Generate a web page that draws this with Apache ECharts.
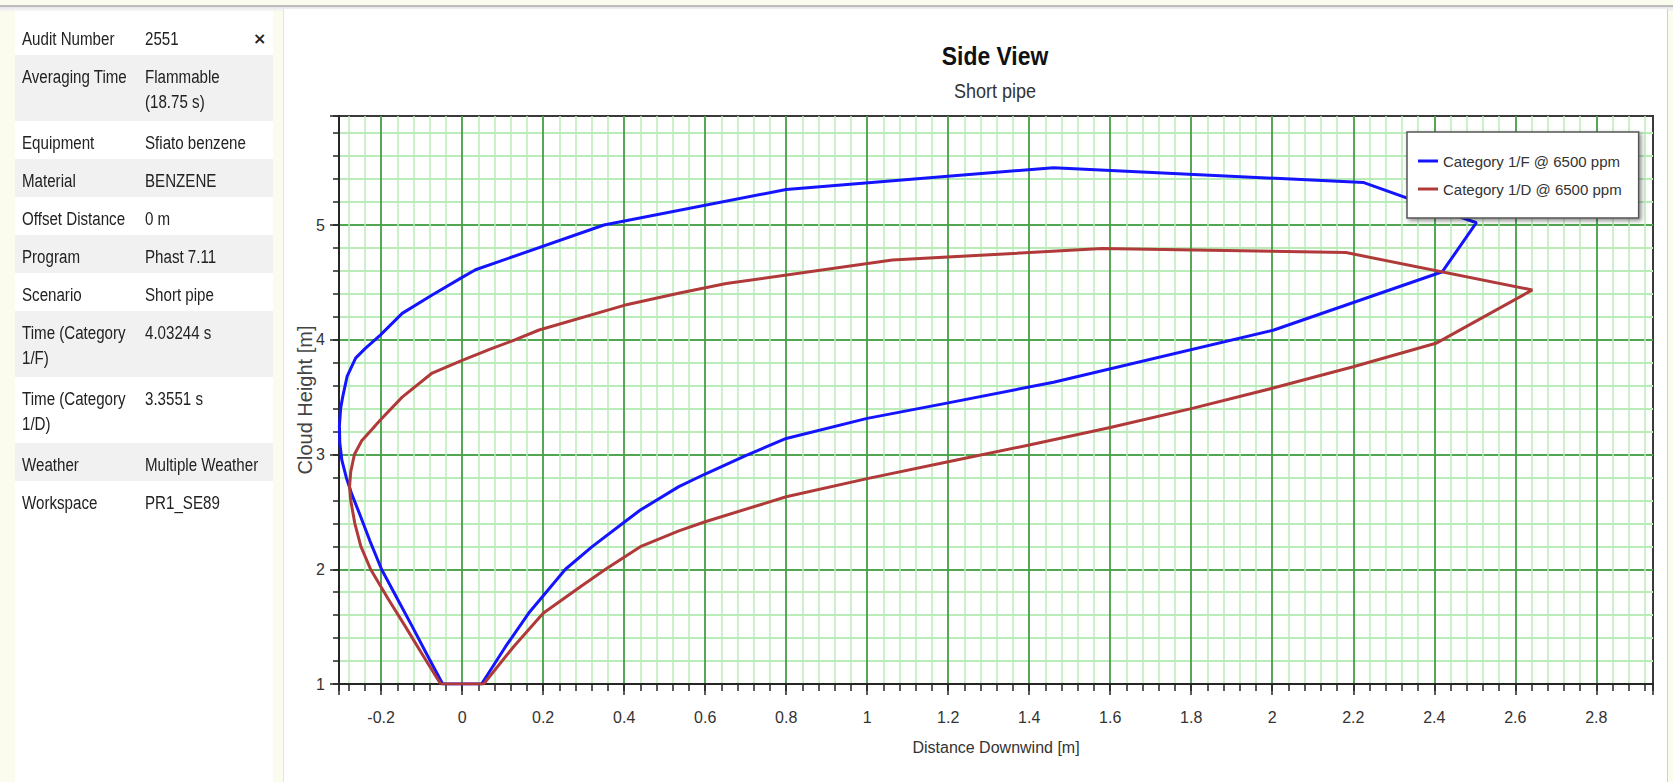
<!DOCTYPE html>
<html>
<head>
<meta charset="utf-8">
<title>Side View</title>
<script src="https://cdn.jsdelivr.net/npm/echarts@6/dist/echarts.min.js"></script>
<style>
html, body { margin: 0; padding: 0; width: 1673px; height: 782px; overflow: hidden; background: #fbfbee; }
body { position: relative; font-family: "Liberation Sans", Arial, sans-serif; }
#topbar { position: absolute; left: 0; top: 5px; width: 1673px; height: 2px; background: #bdbdbd; }
#topshade { position: absolute; left: 0; top: 7px; width: 1673px; height: 4px; background: linear-gradient(#e6e6e6, #f7f7f7); }
#side { position: absolute; left: 15px; top: 11px; width: 258px; height: 771px; background: #fff; }
#rows { position: absolute; left: 0; top: 6px; width: 258px; }
.row { position: relative; height: 38px; background: #fff; }
.row.g { background: #f1f1f1; }
.row.d { height: 66px; }
.k, .v { position: absolute; top: 10px; font-size: 18px; line-height: 25px; color: #222; white-space: nowrap;
         transform: scaleX(0.84); transform-origin: 0 0; }
.k { left: 7px; }
.v { left: 130px; }
#close { position: absolute; left: 238px; top: 12px; font: bold 16px "DejaVu Sans", sans-serif; color: #222; }
#panel { position: absolute; left: 283px; top: 9px; width: 1383px; height: 773px; background: #fff; border-left: 1px solid #e4e4e4; border-right: 1px solid #cfcfcf; }
#chart { position: absolute; left: 0; top: 0; width: 1673px; height: 782px; }
</style>
</head>
<body>
<div id="topbar"></div>
<div id="topshade"></div>
<div id="side">
  <div id="rows">
    <div class="row"><span class="k">Audit Number</span><span class="v">2551</span><span id="close">×</span></div>
    <div class="row g d"><span class="k">Averaging Time</span><span class="v">Flammable<br>(18.75 s)</span></div>
    <div class="row"><span class="k">Equipment</span><span class="v">Sfiato benzene</span></div>
    <div class="row g"><span class="k">Material</span><span class="v">BENZENE</span></div>
    <div class="row"><span class="k">Offset Distance</span><span class="v">0 m</span></div>
    <div class="row g"><span class="k">Program</span><span class="v">Phast 7.11</span></div>
    <div class="row"><span class="k">Scenario</span><span class="v">Short pipe</span></div>
    <div class="row g d"><span class="k">Time (Category<br>1/F)</span><span class="v">4.03244 s</span></div>
    <div class="row d"><span class="k">Time (Category<br>1/D)</span><span class="v">3.3551 s</span></div>
    <div class="row g"><span class="k">Weather</span><span class="v">Multiple Weather</span></div>
    <div class="row"><span class="k">Workspace</span><span class="v">PR1_SE89</span></div>
  </div>
</div>
<div id="panel"></div>
<div id="chart"></div>
<script>
// series names (legend)
const seriesNames = ['Category 1/F @ 6500 ppm', 'Category 1/D @ 6500 ppm'];

// tick labels
const xTickLabels = [-0.2, 0, 0.2, 0.4, 0.6, 0.8, 1, 1.2, 1.4, 1.6, 1.8, 2, 2.2, 2.4, 2.6, 2.8];
const yTickLabels = [1, 2, 3, 4, 5];

// cloud outline, Category 1/F : [distance downwind, cloud height]
const catF = [
  [-0.048, 1.0], [-0.086, 1.25], [-0.123, 1.5], [-0.161, 1.75], [-0.199, 2.0],
  [-0.228, 2.25], [-0.254, 2.49], [-0.272, 2.65], [-0.286, 2.8], [-0.297, 2.95],
  [-0.302, 3.1], [-0.303, 3.25], [-0.3, 3.4], [-0.295, 3.5], [-0.284, 3.68],
  [-0.263, 3.84], [-0.239, 3.925], [-0.202, 4.04], [-0.148, 4.23], [-0.074, 4.39],
  [0.0, 4.544], [0.033, 4.61], [0.35, 5.0], [0.8, 5.31], [1.46, 5.5],
  [2.226, 5.37], [2.504, 5.02], [2.42, 4.593], [2.004, 4.085], [1.46, 3.63],
  [1.2, 3.45], [1.0, 3.315], [0.8, 3.14], [0.7, 2.99], [0.6, 2.83],
  [0.535, 2.72], [0.44, 2.516], [0.4, 2.41], [0.321, 2.197], [0.255, 2.0],
  [0.164, 1.616], [0.107, 1.325], [0.048, 1.0], [-0.048, 1.0]
];

// cloud outline, Category 1/D
const catD = [
  [-0.053, 1.0], [-0.097, 1.25], [-0.14, 1.5], [-0.184, 1.75], [-0.226, 2.0],
  [-0.25, 2.2], [-0.265, 2.4], [-0.275, 2.6], [-0.278, 2.72], [-0.275, 2.85],
  [-0.266, 3.0], [-0.248, 3.12], [-0.225, 3.21], [-0.202, 3.3], [-0.148, 3.5],
  [-0.074, 3.71], [0.0, 3.82], [0.074, 3.925], [0.124, 3.99], [0.19, 4.085],
  [0.4, 4.3], [0.54, 4.41], [0.652, 4.49], [1.062, 4.695], [1.58, 4.795],
  [2.182, 4.76], [2.642, 4.434], [2.404, 3.969], [2.2, 3.765], [2.0, 3.577],
  [1.8, 3.4], [1.6, 3.236], [1.4, 3.083], [1.2, 2.937], [1.0, 2.79],
  [0.8, 2.632], [0.6, 2.414], [0.535, 2.335], [0.44, 2.197], [0.354, 2.0],
  [0.292, 1.848], [0.2, 1.616], [0.127, 1.325], [0.053, 1.0], [-0.053, 1.0]
];

const X_MIN = -0.304, X_MAX = 2.94;
const Y_MIN = 1, Y_MAX = 5.95;

const FONT = '"Liberation Sans", Arial, sans-serif';
const MINOR = '#b9ecb9';
const MAJOR = '#2f8f2f';
const AXIS = '#262626';

const onTick = (v, list) => list.some(t => Math.abs(t - v) < 1e-6);
const fmt = list => v => onTick(v, list) ? String(+(+v).toFixed(1)) : '';

const myChart = echarts.init(document.getElementById('chart'), null, { renderer: 'svg' });

const option = {
  animation: false,
  backgroundColor: 'transparent',
  textStyle: { fontFamily: FONT },
  graphic: [
    {
      type: 'text', x: 995, y: 56, z: 10, scaleX: 0.88,
      style: {
        text: 'Side View', align: 'center', verticalAlign: 'middle',
        textAlign: 'center', textVerticalAlign: 'middle',
        font: 'bold 26px ' + FONT, fill: '#111'
      }
    },
    {
      type: 'text', x: 995, y: 91, z: 10, scaleX: 0.9,
      style: {
        text: 'Short pipe', align: 'center', verticalAlign: 'middle',
        textAlign: 'center', textVerticalAlign: 'middle',
        font: '20px ' + FONT, fill: '#333'
      }
    }
  ],
  legend: {
    data: seriesNames,
    orient: 'vertical',
    left: 1407,
    top: 132,
    padding: [20, 17, 20, 11],
    itemGap: 10,
    itemWidth: 20,
    itemHeight: 3,
    icon: 'rect',
    backgroundColor: '#fff',
    borderColor: '#555',
    borderWidth: 1.5,
    shadowColor: 'rgba(0,0,0,0.45)',
    shadowBlur: 4,
    shadowOffsetX: 2,
    shadowOffsetY: 2,
    selectedMode: false,
    textStyle: { fontSize: 15, lineHeight: 18, color: '#333', fontFamily: FONT }
  },
  grid: {
    left: 339,
    top: 116,
    width: 1314,
    height: 568,
    show: true,
    backgroundColor: '#fff',
    borderColor: '#3a3a3a',
    borderWidth: 2,
    containLabel: false,
    outerBoundsMode: 'none'
  },
  xAxis: [
    {
      // minor grid
      type: 'value', position: 'bottom', min: X_MIN, max: X_MAX,
      minInterval: 0.04, maxInterval: 0.04,
      axisLine: { show: false, onZero: false },
      axisLabel: { show: false },
      axisTick: { show: true, length: 7, lineStyle: { color: AXIS, width: 1.5 } },
      splitLine: { show: true, showMinLine: false, showMaxLine: false, lineStyle: { color: MINOR, width: 1.5 } }
    },
    {
      // major grid + labels
      type: 'value', position: 'bottom', min: X_MIN, max: X_MAX,
      minInterval: 0.2, maxInterval: 0.2,
      name: 'Distance Downwind [m]',
      nameLocation: 'middle',
      nameGap: 55,
      nameMoveOverlap: false,
      nameTextStyle: { fontSize: 16, color: '#333', fontFamily: FONT },
      axisLine: { show: true, onZero: false, lineStyle: { color: AXIS, width: 2 } },
      axisTick: { show: true, length: 11, lineStyle: { color: AXIS, width: 1.5 } },
      axisLabel: { margin: 25, fontSize: 16, color: '#333', formatter: fmt(xTickLabels) },
      splitLine: { show: true, showMinLine: false, showMaxLine: false, lineStyle: { color: MAJOR, width: 1.5 } }
    }
  ],
  yAxis: [
    {
      type: 'value', position: 'left', min: Y_MIN, max: Y_MAX,
      minInterval: 0.2, maxInterval: 0.2,
      axisLine: { show: false, onZero: false },
      axisLabel: { show: false },
      axisTick: { show: true, length: 6, lineStyle: { color: AXIS, width: 1.5 } },
      splitLine: { show: true, showMinLine: false, showMaxLine: false, lineStyle: { color: MINOR, width: 2 } }
    },
    {
      type: 'value', position: 'left', min: Y_MIN, max: Y_MAX,
      minInterval: 1, maxInterval: 1,
      name: 'Cloud Height [m]',
      nameLocation: 'middle',
      nameGap: 24,
      nameRotate: 90,
      nameMoveOverlap: false,
      nameTextStyle: { fontSize: 20, color: '#444', fontFamily: FONT },
      axisLine: { show: true, onZero: false, lineStyle: { color: AXIS, width: 2 } },
      axisTick: { show: true, length: 9, lineStyle: { color: AXIS, width: 1.5 } },
      axisLabel: { margin: 14, fontSize: 16, color: '#333', formatter: fmt(yTickLabels) },
      splitLine: { show: true, showMinLine: false, showMaxLine: false, lineStyle: { color: MAJOR, width: 1.5 } }
    }
  ],
  series: [
    {
      name: seriesNames[0],
      type: 'line',
      xAxisIndex: 1,
      yAxisIndex: 1,
      data: catF,
      symbol: 'none',
      showSymbol: false,
      z: 3,
      lineStyle: { color: '#1414ff', width: 3 },
      itemStyle: { color: '#1414ff' }
    },
    {
      name: seriesNames[1],
      type: 'line',
      xAxisIndex: 1,
      yAxisIndex: 1,
      data: catD,
      symbol: 'none',
      showSymbol: false,
      z: 3,
      lineStyle: { color: '#b03a3a', width: 3 },
      itemStyle: { color: '#b03a3a' }
    }
  ]
};

myChart.setOption(option);
</script>
</body>
</html>
